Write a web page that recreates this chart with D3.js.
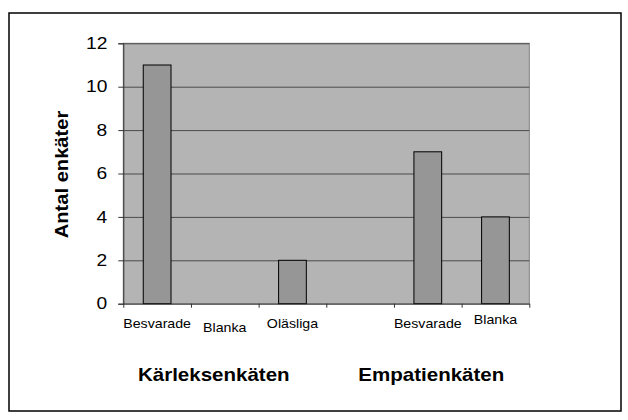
<!DOCTYPE html>
<html>
<head>
<meta charset="utf-8">
<script src="https://cdn.jsdelivr.net/npm/d3@7"></script>
<style>
  body { margin: 0; background: #fff; }
  text { font-family: Arial, "Liberation Sans", sans-serif; fill: #000; }
</style>
</head>
<body>
<svg id="chart" width="628" height="420"></svg>
<script>
(function() {

  // data
  var categories = ["Besvarade", "Blanka", "Oläsliga", "", "Besvarade", "Blanka"];
  var values = [11, 0, 2, null, 7, 4];
  var yTicks = [0, 2, 4, 6, 8, 10, 12];
  var groups = ["Kärleksenkäten", "Empatienkäten"];
  var groupCategory = [1, 4];
  var yTitle = "Antal enkäter";

  // layout
  var plot = { left: 123.3, right: 529.3, top: 43.3, bottom: 303.7 };
  var labelShift = [0, 4, 0, 0, 0, -4];   // staggered category labels
  var groupShift = [-11, 3.5];

  var svg = d3.select('#chart');

  // stretch text horizontally like the original picture
  function stretch(sel, k) {
    sel.each(function() {
      var w = this.getComputedTextLength();
      d3.select(this)
          .attr('textLength', w * k)
          .attr('lengthAdjust', 'spacingAndGlyphs');
    });
  }

  svg.append('rect')
      .attr('x', 9)
      .attr('y', 13)
      .attr('width', 612)
      .attr('height', 398)
      .attr('fill', '#fff')
      .attr('stroke', '#000')
      .attr('stroke-width', 1.5);

  var x = d3.scaleBand()
      .domain(d3.range(categories.length))
      .range([plot.left, plot.right])
      .paddingInner(0.59)
      .paddingOuter(0.295);

  var xEdges = d3.scaleLinear()
      .domain([0, categories.length])
      .range([plot.left, plot.right]);

  var y = d3.scaleLinear()
      .domain([0, 12])
      .range([plot.bottom, plot.top]);

  svg.append('rect')
      .attr('x', plot.left)
      .attr('y', plot.top)
      .attr('width', plot.right - plot.left)
      .attr('height', plot.bottom - plot.top)
      .attr('fill', '#b4b4b4')
      .attr('stroke', '#808080')
      .attr('stroke-width', 1);

  // gridlines
  var grid = svg.append('g')
      .attr('class', 'grid')
      .attr('transform', 'translate(' + plot.left + ',0)')
      .call(d3.axisLeft(y)
          .tickValues(yTicks.slice(1))
          .tickSize(-(plot.right - plot.left))
          .tickFormat('')
      );
  grid.select('.domain').remove();
  grid.selectAll('line').attr('stroke', '#4a4a4a').attr('stroke-width', 1);

  // bars
  svg.append('g')
      .selectAll('rect')
      .data(values.map(function(v, i) { return { i: i, v: v }; })
          .filter(function(d) { return d.v; }))
      .enter().append('rect')
      .attr('x', function(d) { return x(d.i); })
      .attr('y', function(d) { return y(d.v); })
      .attr('width', x.bandwidth())
      .attr('height', function(d) { return y(0) - y(d.v); })
      .attr('fill', '#969696')
      .attr('stroke', '#000')
      .attr('stroke-width', 1);

  // y axis
  var yAxis = svg.append('g')
      .attr('transform', 'translate(' + plot.left + ',0)')
      .call(d3.axisLeft(y)
          .tickValues(yTicks)
          .tickSize(5)
          .tickPadding(11)
          .tickFormat(d3.format('d'))
      );
  yAxis.select('.domain').attr('stroke', '#333');
  yAxis.selectAll('line').attr('stroke', '#333');
  yAxis.selectAll('text')
      .attr('font-size', 16)
      .attr('font-family', 'Arial, "Liberation Sans", sans-serif')
      .attr('fill', '#000')
      .call(stretch, 1.2);

  // x axis, ticks between categories
  var xAxis = svg.append('g')
      .attr('transform', 'translate(0,' + plot.bottom + ')')
      .call(d3.axisBottom(xEdges)
          .tickValues(d3.range(categories.length + 1))
          .tickSize(4)
          .tickSizeOuter(0)
          .tickFormat('')
      );
  xAxis.select('.domain').attr('stroke', '#333');
  xAxis.selectAll('line').attr('stroke', '#333');

  svg.append('g')
      .selectAll('text')
      .data(categories)
      .enter().append('text')
      .attr('x', function(d, i) { return x(i) + x.bandwidth() / 2; })
      .attr('y', function(d, i) { return 327.7 + labelShift[i]; })
      .attr('text-anchor', 'middle')
      .attr('font-size', 13)
      .text(function(d) { return d; })
      .filter(function(d) { return d; })
      .call(stretch, 1.09);

  // group labels
  svg.append('g')
      .selectAll('text')
      .data(groups)
      .enter().append('text')
      .attr('x', function(d, i) { return x(groupCategory[i]) + x.bandwidth() / 2 + groupShift[i]; })
      .attr('y', 380.7)
      .attr('text-anchor', 'middle')
      .attr('font-size', 19)
      .attr('font-weight', 'bold')
      .text(function(d) { return d; })
      .call(stretch, 1.08);

  svg.append('text')
      .attr('transform', 'translate(68,' + ((plot.top + plot.bottom) / 2 + 1) + ') rotate(-90)')
      .attr('text-anchor', 'middle')
      .attr('font-size', 19)
      .attr('font-weight', 'bold')
      .text(yTitle)
      .call(stretch, 1.06);

})();
</script>
</body>
</html>
